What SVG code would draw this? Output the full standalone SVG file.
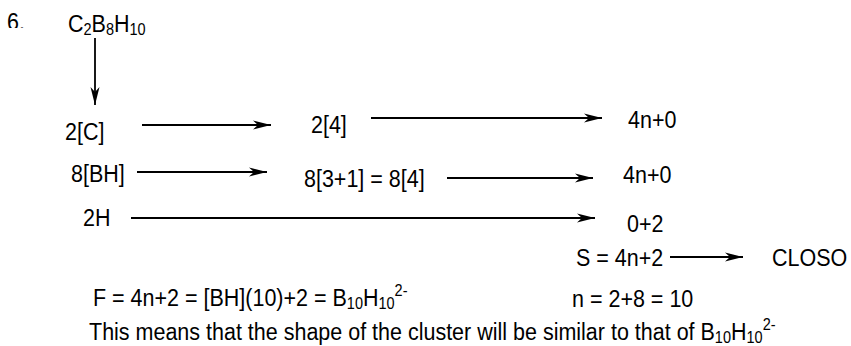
<svg xmlns="http://www.w3.org/2000/svg" width="851" height="346" viewBox="0 0 851 346">
<style>
text{font-family:"Liberation Sans",Arial,sans-serif;font-size:21.5px;fill:#000}
.s{font-size:14.5px}
.c line{stroke:#000;stroke-width:1.8;marker-end:url(#ah)}
</style>
<defs>
<marker id="ah" markerUnits="userSpaceOnUse" markerWidth="20" markerHeight="12" viewBox="-18 -5 20 10" refX="0" refY="0" orient="auto">
<path d="M0,0 L-18,-4.5 L-13,0 L-18,4.5 Z" fill="#000"/>
</marker>
<clipPath id="cl6"><rect x="0" y="0" width="40" height="28"/></clipPath>
</defs>
<rect width="851" height="346" fill="#fff"/>
<g id="num" clip-path="url(#cl6)"><text transform="translate(7,30) scale(1,1.15)">6.</text></g>
<g id="formula"><text transform="translate(68,32) scale(1,1.15)">C<tspan class="s" dy="3">2</tspan><tspan dy="-3">B</tspan><tspan class="s" dy="3">8</tspan><tspan dy="-3">H</tspan><tspan class="s" dy="3">10</tspan></text></g>
<g id="r1a"><text transform="translate(65,140) scale(1,1.15)">2[C]</text></g>
<g id="r1b"><text transform="translate(311,133) scale(1,1.15)">2[4]</text></g>
<g id="r1c"><text transform="translate(628,128) scale(1,1.15)">4n+0</text></g>
<g id="r2a"><text transform="translate(71,182) scale(1,1.15)">8[BH]</text></g>
<g id="r2b"><text transform="translate(304,187) scale(1,1.15)">8[3+1] = 8[4]</text></g>
<g id="r2c"><text transform="translate(623,183) scale(1,1.15)">4n+0</text></g>
<g id="r3a"><text transform="translate(83,226) scale(1,1.15)">2H</text></g>
<g id="r3b"><text transform="translate(627,232) scale(1,1.15)">0+2</text></g>
<g id="s"><text transform="translate(576,266) scale(1,1.15)">S = 4n+2</text></g>
<g id="closo"><text transform="translate(772,266) scale(1,1.15)">CLOSO</text></g>
<g id="f"><text transform="translate(93,306) scale(1,1.15)">F = 4n+2 = [BH](10)+2 = B<tspan class="s" dy="3">10</tspan><tspan dy="-3">H</tspan><tspan class="s" dy="3">10</tspan><tspan class="s" dy="-12">2-</tspan></text></g>
<g id="n"><text transform="translate(572,307) scale(1,1.15)">n = 2+8 = 10</text></g>
<g id="concl"><text transform="translate(89,340) scale(1,1.15)">This means that the shape of the cluster will be similar to that of B<tspan class="s" dy="2.5">10</tspan><tspan dy="-2.5">H</tspan><tspan class="s" dy="2.5">10</tspan><tspan class="s" dy="-11.5">2-</tspan></text></g>
<g class="c" id="connectors">
<line x1="95" y1="38" x2="95" y2="105"/>
<line x1="142" y1="125" x2="271" y2="125"/>
<line x1="371" y1="118" x2="602" y2="118"/>
<line x1="137" y1="172" x2="267" y2="172"/>
<line x1="447" y1="178" x2="593" y2="178"/>
<line x1="131" y1="218" x2="595" y2="218"/>
<line x1="670" y1="257" x2="743" y2="257"/>
</g>
</svg>
